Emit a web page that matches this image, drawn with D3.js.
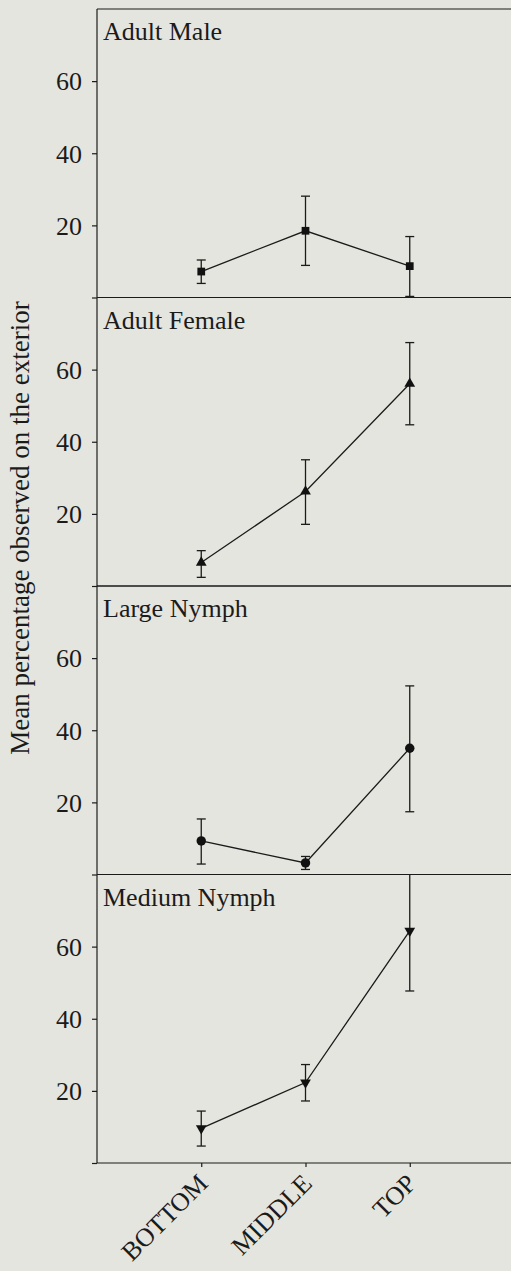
<!DOCTYPE html>
<html>
<head>
<meta charset="utf-8">
<script src="https://cdn.jsdelivr.net/npm/d3@7"></script>
<style>
  html, body { margin: 0; padding: 0; background: #e5e5df; }
  svg { display: block; }
  text { font-family: "Liberation Serif", "Times New Roman", serif; fill: #1b1b1b; }
  .axis path, .axis line { stroke: #1b1b1b; stroke-width: 1.2; }
  .link { fill: none; stroke: #1b1b1b; stroke-width: 1.3; }
  .err { stroke: #1b1b1b; stroke-width: 1.3; }
</style>
</head>
<body>
<div class="container"></div>
<script>
var categories = ['BOTTOM', 'MIDDLE', 'TOP'];
var panelTitles = ['Adult Male', 'Adult Female', 'Large Nymph', 'Medium Nymph'];
var yTicks = [0, 20, 40, 60];
var yTickLabels = ['', '20', '40', '60'];
var yLabel = 'Mean percentage observed on the exterior';

// mean, lower and upper error limit, one array per panel
var maleMean = [7.2, 18.5, 8.7],
	maleLow = [3.9, 8.9, 0.3],
	maleHigh = [10.4, 28.1, 16.9];
var femaleMean = [6.5, 26.2, 56.1],
	femaleLow = [2.4, 17.1, 44.7],
	femaleHigh = [9.8, 35.0, 67.5];
var largeMean = [9.3, 3.2, 35.0],
	largeLow = [2.9, 1.4, 17.4],
	largeHigh = [15.4, 5.0, 52.3];
var mediumMean = [9.6, 22.3, 64.4],
	mediumLow = [4.7, 17.2, 47.7],
	mediumHigh = [14.4, 27.3, 81.1];

var WIDTH = 511,
	HEIGHT = 1271,
	LEFT = 97,
	TOP = 9,
	PANEL_H = 288.5,
	FONT = 26;

var panels = [
	{mean: maleMean, low: maleLow, high: maleHigh, symbol: d3.symbolSquare, size: 60},
	{mean: femaleMean, low: femaleLow, high: femaleHigh, symbol: d3.symbolTriangle, size: 50},
	{mean: largeMean, low: largeLow, high: largeHigh, symbol: d3.symbolCircle, size: 70},
	{mean: mediumMean, low: mediumLow, high: mediumHigh, symbol: d3.symbolTriangle, size: 50, flip: true}
];

var svg = d3.select('.container').append('svg')
	.attr('width', WIDTH)
	.attr('height', HEIGHT);

var xScale = d3.scalePoint()
	.domain(categories)
	.range([LEFT, 514])
	.padding(1);

panels.forEach(function(p, i) {
	p.title = panelTitles[i];
	var top = TOP + i * PANEL_H;
	var yScale = d3.scaleLinear()
		.domain([0, 80])
		.range([top + PANEL_H, top])
		.clamp(true);

	// top frame line
	svg.append('line')
		.attr('x1', LEFT).attr('x2', WIDTH)
		.attr('y1', yScale(80)).attr('y2', yScale(80))
		.attr('stroke', '#1b1b1b').attr('stroke-width', 1.2);

	var yAxis = d3.axisLeft(yScale)
		.tickValues(yTicks)
		.tickSize(5)
		.tickPadding(10)
		.tickFormat(function(d, k) { return yTickLabels[k]; });

	var yg = svg.append('g')
		.attr('class', 'axis')
		.attr('transform', 'translate(' + LEFT + ',0)')
		.call(yAxis);
	yg.select('.domain').attr('d', 'M0,' + yScale(80) + 'V' + yScale(0));
	yg.selectAll('text')
		.style('font-size', FONT + 'px')
		.attr('dy', '0.34em');

	// bottom line of each panel
	if (i < panels.length - 1) {
		svg.append('line')
			.attr('x1', LEFT).attr('x2', WIDTH)
			.attr('y1', yScale(0)).attr('y2', yScale(0))
			.attr('stroke', '#1b1b1b').attr('stroke-width', 1.2);
	} else {
		var xAxis = d3.axisBottom(xScale).tickSize(4).tickFormat('');
		var xg = svg.append('g')
			.attr('class', 'axis')
			.attr('transform', 'translate(0,' + yScale(0) + ')')
			.call(xAxis);
		xg.select('.domain').attr('d', 'M' + LEFT + ',0H' + WIDTH);
		svg.selectAll('.xlab')
			.data(categories).enter()
			.append('text')
			.attr('class', 'xlab')
			.attr('text-anchor', 'end')
			.style('font-size', FONT + 'px')
			.attr('transform', function(d) {
				return 'translate(' + (xScale(d) + 8) + ',' + (yScale(0) + 22) + ') rotate(-45)';
			})
			.text(function(d) { return d; });
	}

	svg.append('text')
		.attr('x', LEFT + 6)
		.attr('y', top + 31)
		.style('font-size', FONT + 'px')
		.text(p.title);

	var rows = categories.map(function(c, k) {
		return {cat: c, mean: p.mean[k], low: p.low[k], high: p.high[k]};
	});

	var line = d3.line()
		.x(function(d) { return xScale(d.cat); })
		.y(function(d) { return yScale(d.mean); });

	svg.append('path')
		.datum(rows)
		.attr('class', 'link')
		.attr('d', line);

	var bars = svg.selectAll('.err' + i)
		.data(rows).enter()
		.append('g')
		.attr('class', 'err err' + i);
	bars.append('line')
		.attr('x1', function(d) { return xScale(d.cat); })
		.attr('x2', function(d) { return xScale(d.cat); })
		.attr('y1', function(d) { return yScale(d.low); })
		.attr('y2', function(d) { return yScale(d.high); });
	bars.append('line')
		.attr('x1', function(d) { return xScale(d.cat) - 4.5; })
		.attr('x2', function(d) { return xScale(d.cat) + 4.5; })
		.attr('y1', function(d) { return yScale(d.low); })
		.attr('y2', function(d) { return yScale(d.low); });
	bars.filter(function(d) { return d.high <= 80; })
		.append('line')
		.attr('x1', function(d) { return xScale(d.cat) - 4.5; })
		.attr('x2', function(d) { return xScale(d.cat) + 4.5; })
		.attr('y1', function(d) { return yScale(d.high); })
		.attr('y2', function(d) { return yScale(d.high); });

	svg.selectAll('.mark' + i)
		.data(rows).enter()
		.append('path')
		.attr('class', 'mark' + i)
		.attr('fill', '#111')
		.attr('d', d3.symbol().type(p.symbol).size(p.size))
		.attr('transform', function(d) {
			return 'translate(' + xScale(d.cat) + ',' + yScale(d.mean) + ')' + (p.flip ? ' rotate(180)' : '');
		});
});

svg.append('text')
	.attr('transform', 'translate(29,' + (TOP + 2 * PANEL_H - 58) + ') rotate(-90)')
	.attr('text-anchor', 'middle')
	.style('font-size', '27px')
	.text(yLabel);
</script>
</body>
</html>
